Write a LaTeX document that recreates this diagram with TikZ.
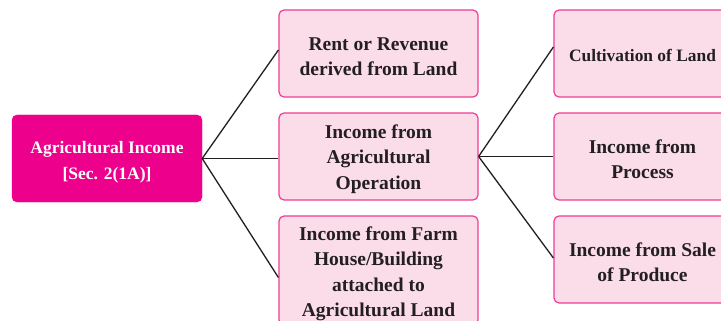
\documentclass[tikz,border=0pt]{standalone}
\usepackage{fontspec}
\setmainfont{Liberation Serif}
\definecolor{mag}{HTML}{EC008C}
\definecolor{lpink}{HTML}{FBDDEA}
\definecolor{bpink}{HTML}{EE3D95}
\definecolor{ink}{HTML}{231F20}
\newcommand{\dnshift}[1]{\rule{0pt}{#1}}
\begin{document}
\begin{tikzpicture}[x=1pt,y=-1pt,
  mainbox/.style={rectangle,rounded corners=5pt,fill=mag,draw=mag,text=white,
    font=\bfseries\fontsize{17.5}{26}\selectfont,align=center,
    minimum width=190pt,minimum height=87pt,inner sep=0pt},
  subbox/.style={rectangle,rounded corners=5pt,fill=lpink,draw=bpink,line width=1.2pt,text=ink,
    font=\bfseries\fontsize{19.5}{25.5}\selectfont,align=center,
    minimum width=199pt,minimum height=87pt,inner sep=0pt},
  rbox/.style={subbox,minimum width=177pt},
  link/.style={draw=ink,line width=1.3pt}]
\useasboundingbox (0,0) rectangle (721,321);
\clip (0,0) rectangle (721,321);
\fill[white] (0,0) rectangle (721,321);
\node[mainbox] (ai) at (107,158.5) {\dnshift{20pt}Agricultural Income\\{[}Sec. 2(1A){]}};
\node[subbox] (m1) at (378.5,53.5) {\dnshift{19pt}Rent or Revenue\\derived from Land};
\node[subbox] (m2) at (378.5,156.5) {\dnshift{19pt}Income from\\Agricultural\\Operation};
\node[subbox,minimum height=109pt] (m3) at (378.5,270.5) {\dnshift{20pt}Income from Farm\\House/Building\\attached to\\Agricultural Land};
\node[rbox,font=\bfseries\fontsize{17.4}{25}\selectfont] (r1) at (642.5,53.5) {\dnshift{16pt}Cultivation of Land};
\node[rbox] (r2) at (642.5,156.5) {\dnshift{19pt}Income from\\Process};
\node[rbox] (r3) at (642.5,259.5) {\dnshift{19pt}Income from Sale\\of Produce};
\coordinate (aiR) at (ai.east);
\draw[link] (aiR) -- ([yshift=3.5pt]m1.west);
\draw[link] (aiR) -- (m2.west |- aiR);
\draw[link] (aiR) -- ([yshift=-7pt]m3.west);
\coordinate (m2R) at (m2.east);
\draw[link] (m2R) -- ([yshift=6.5pt]r1.west);
\draw[link] (m2R) -- (r2.west);
\draw[link] (m2R) -- ([yshift=1.5pt]r3.west);
\end{tikzpicture}
\end{document}
